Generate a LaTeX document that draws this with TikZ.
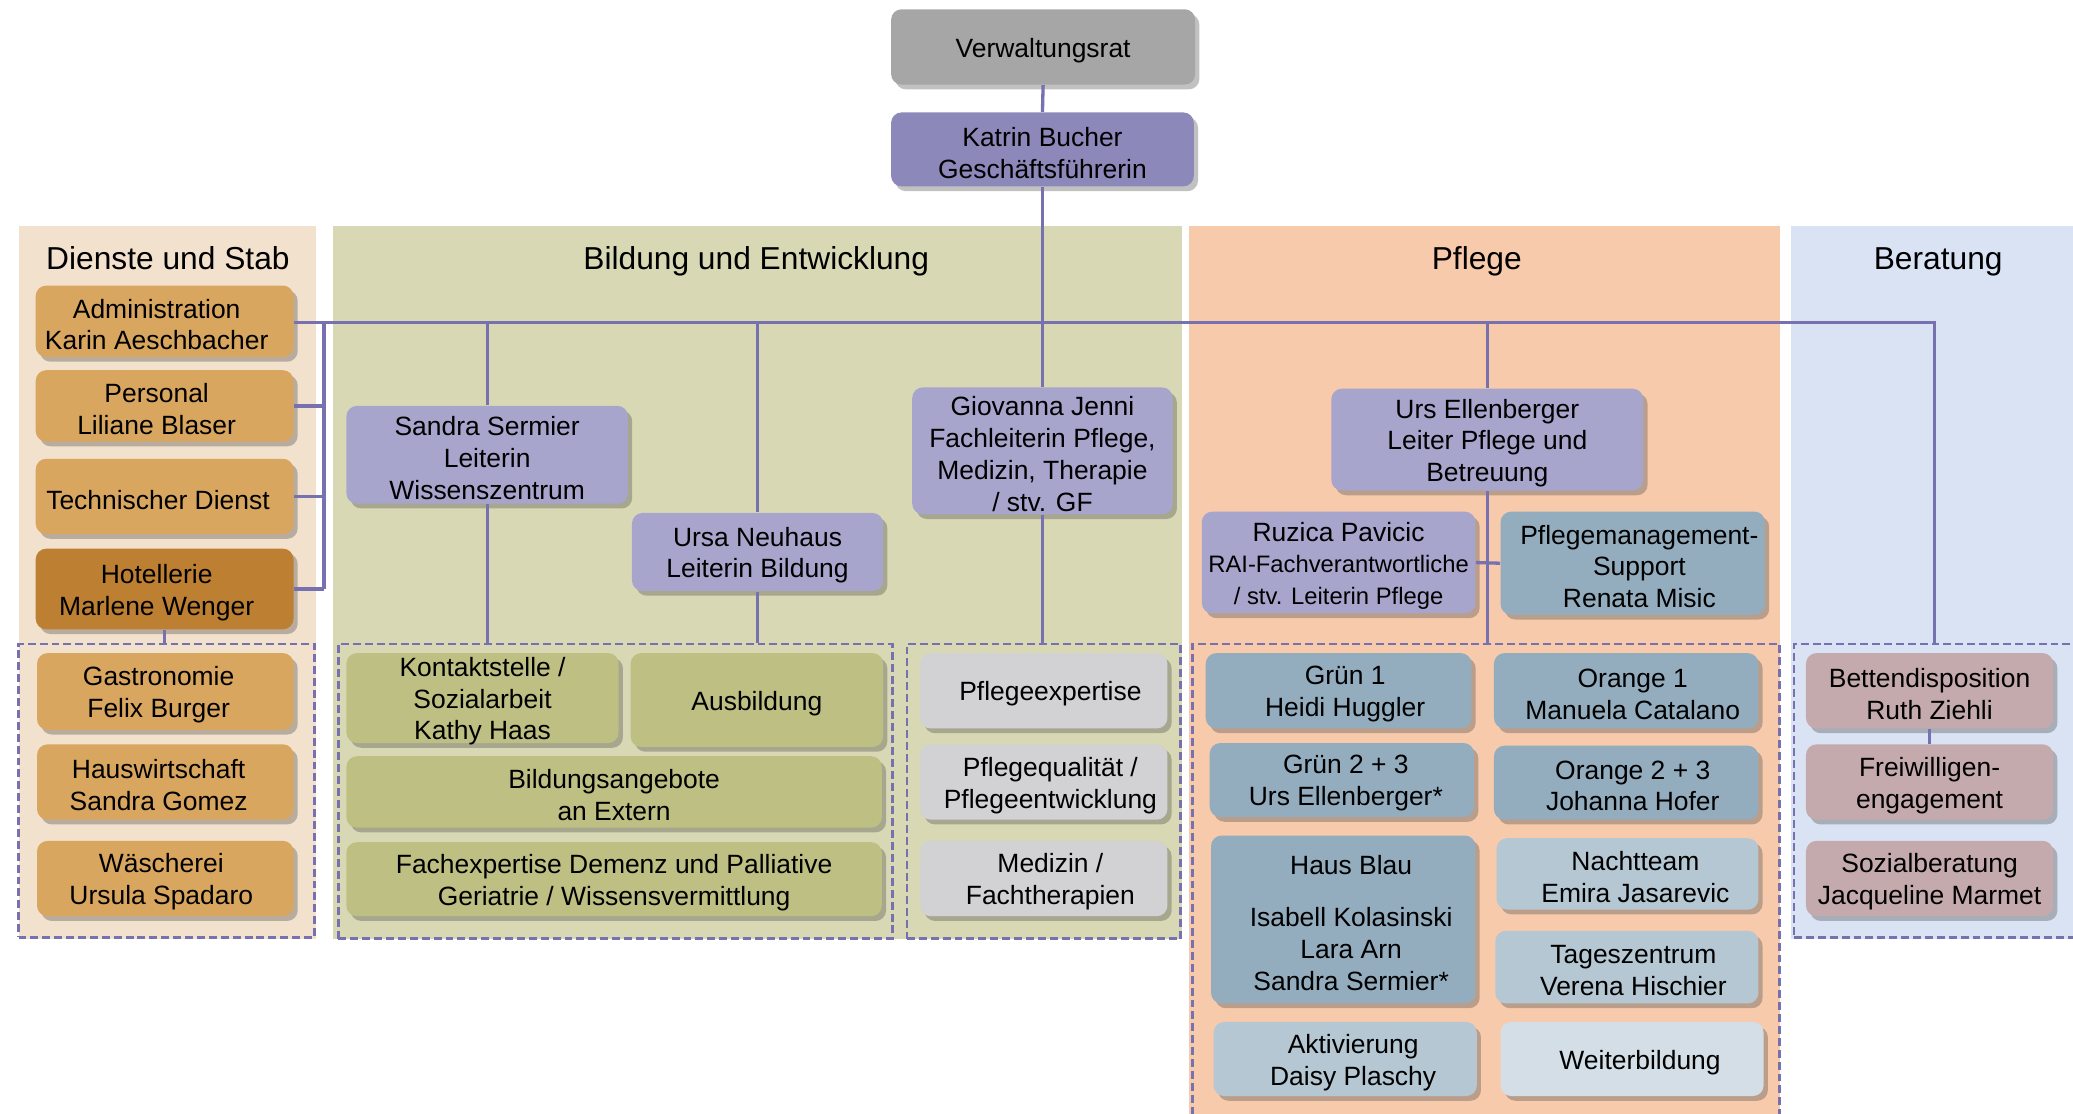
\documentclass[tikz,border=0pt]{standalone}
\usepackage{fontspec}
\setmainfont{Liberation Sans}
\usetikzlibrary{shadows}
\definecolor{pDienste}{HTML}{F2E1CC}
\definecolor{pBildung}{HTML}{D8D9B4}
\definecolor{pPflege}{HTML}{F7CAAC}
\definecolor{pBeratung}{HTML}{DAE3F3}
\definecolor{cGray}{HTML}{A6A6A6}
\definecolor{cKatrin}{HTML}{8C89BA}
\definecolor{cLilac}{HTML}{A7A5CC}
\definecolor{cTan}{HTML}{D9A660}
\definecolor{cDarkTan}{HTML}{BD7F31}
\definecolor{cOlive}{HTML}{BEBF82}
\definecolor{cLGray}{HTML}{D2D1D4}
\definecolor{cBlue}{HTML}{93ADBF}
\definecolor{cLBlue}{HTML}{B4C7D3}
\definecolor{cLLBlue}{HTML}{D3DEE6}
\definecolor{cMauve}{HTML}{C4AAAC}
\definecolor{cLine}{HTML}{7771B0}
\tikzset{
  box/.style={draw=none,rounded corners=4pt,inner sep=0pt,
    drop shadow={shadow xshift=1.6pt,shadow yshift=-1.8pt,opacity=0.35,fill=black!70}},
  btext/.style={inner sep=0pt,align=center,font=\fontsize{10}{12}\selectfont,text=black},
  dbox/.style={draw=cLine,dashed,dash pattern=on 3pt off 1.5pt,line width=1pt,inner sep=0pt},
  conn/.style={draw=cLine,line width=1.25pt},
  head/.style={font=\fontsize{12}{14}\selectfont,text=black,inner sep=0pt,anchor=base}
}
% \bx[xshift of text]{name}{x1}{y1}{x2}{y2}{style}{text}
\newcommand\bx[8][0]{%
  \node[#7,minimum width={(#5-#3)*0.5pt},minimum height={(#6-#4)*0.5pt}] (#2) at ({(#3+#5)/2},{(#4+#6)/2}) {};%
  \node[btext,xshift={#1*0.5pt},yshift=-1.25pt] (#2t) at (#2.center) {#8};}
\newcommand\dg[6]{\node[dbox,minimum width={(#4-#2)*0.5pt},minimum height={(#5-#3)*0.5pt}] (#1) at ({(#2+#4)/2},{(#3+#5)/2}) {};}
\begin{document}
\begin{tikzpicture}[x=0.5pt,y=-0.5pt]
\useasboundingbox (0,0) rectangle (1568,842);
% panels
\fill[pDienste] (14,171) rectangle (239,710);
\fill[pBildung] (252,171) rectangle (894,710);
\fill[pPflege] (899,171) rectangle (1346,850);
\fill[pBeratung] (1355,171) rectangle (1575,710);
\node[head] (hD) at (127,203.5) {Dienste und Stab};
\node[head] (hB) at (572,203.5) {Bildung und Entwicklung};
\node[head] (hP) at (1117,203.5) {Pflege};
\node[head] (hR) at (1466,203.5) {Beratung};
% dashed groups
\dg{dd1}{14}{487}{238}{709}{}
\dg{dd2}{256}{487}{675}{710}{}
\dg{dd3}{686}{487}{893}{710}{}
\dg{dd4}{902}{487}{1346}{860}{}
\dg{dd5}{1357}{487}{1580}{709}{}
\coordinate (busL) at (222,244);
\coordinate (busR) at (1463,244);
\coordinate (lv) at (245,244);
% top
\bx{vr}{674}{7}{904}{64}{box,fill=cGray}{Verwaltungsrat}
\bx{kb}{674}{85}{903}{141}{box,fill=cKatrin}{Katrin Bucher\\Geschäftsführerin}
% Dienste
\bx[-6]{adm}{27}{216}{222}{270}{box,fill=cTan}{Administration\\Karin Aeschbacher}
\bx[-6]{per}{27}{280}{222}{334}{box,fill=cTan}{Personal\\Liliane Blaser}
\bx[-5]{tec}{27}{347}{222}{404}{box,fill=cTan}{Technischer Dienst}
\bx[-6]{hot}{27}{415}{222}{476}{box,fill=cDarkTan}{Hotellerie\\Marlene Wenger}
\bx[-5]{gas}{28}{494}{222}{552}{box,fill=cTan}{Gastronomie\\Felix Burger}
\bx[-5]{hau}{28}{563}{222}{620}{box,fill=cTan}{Hauswirtschaft\\Sandra Gomez}
\bx[-3]{was}{28}{636}{222}{693}{box,fill=cTan}{Wäscherei\\Ursula Spadaro}
% Bildung
\bx{ss}{262}{307}{475}{381}{box,fill=cLilac}{Sandra Sermier\\Leiterin\\Wissenszentrum}
\bx{un}{478}{388}{668}{447}{box,fill=cLilac}{Ursa Neuhaus\\Leiterin Bildung}
\bx{gj}{690}{293}{887}{389}{box,fill=cLilac}{Giovanna Jenni\\Fachleiterin Pflege,\\Medizin, Therapie\\/ stv. GF}
\bx{ks}{262}{494}{468}{562}{box,fill=cOlive}{Kontaktstelle /\\Sozialarbeit\\Kathy Haas}
\bx{aus}{477}{494}{668}{565}{box,fill=cOlive}{Ausbildung}
\bx{ba}{262}{572}{667}{626}{box,fill=cOlive}{Bildungsangebote\\an Extern}
\bx{fe}{262}{637}{667}{693}{box,fill=cOlive}{Fachexpertise Demenz und Palliative\\Geriatrie / Wissensvermittlung}
\bx[5]{pe}{696}{494}{883}{551}{box,fill=cLGray}{Pflegeexpertise}
\bx[5]{pq}{696}{563}{883}{620}{box,fill=cLGray}{Pflegequalität /\\Pflegeentwicklung}
\bx[5]{mf}{696}{636}{883}{693}{box,fill=cLGray}{Medizin /\\Fachtherapien}
% Pflege
\bx{ue}{1007}{294}{1243}{371}{box,fill=cLilac}{Urs Ellenberger\\Leiter Pflege und\\Betreuung}
\bx{rp}{909}{387}{1116}{464}{box,fill=cLilac}{Ruzica Pavicic\\{\fontsize{9}{11}\selectfont RAI-Fachverantwortliche}\\{\fontsize{9}{11}\selectfont / stv. Leiterin Pflege}}
\bx[5]{pm}{1135}{387}{1335}{465}{box,fill=cBlue}{Pflegemanagement-\\Support\\Renata Misic}
\bx[5]{g1}{912}{494}{1113}{551}{box,fill=cBlue}{Grün 1\\Heidi Huggler}
\bx[5]{o1}{1130}{494}{1330}{551}{box,fill=cBlue}{Orange 1\\Manuela Catalano}
\bx[3]{g2}{915}{562}{1115}{618}{box,fill=cBlue}{Grün 2 + 3\\Urs Ellenberger*}
\bx[5]{o2}{1130}{564}{1330}{620}{box,fill=cBlue}{Orange 2 + 3\\Johanna Hofer}
\bx[6]{hb}{916}{632}{1116}{759}{box,fill=cBlue}{Haus Blau\\[8pt]Isabell Kolasinski\\Lara Arn\\Sandra Sermier*}
\bx[6]{nt}{1132}{634}{1330}{688}{box,fill=cLBlue}{Nachtteam\\Emira Jasarevic}
\bx[5]{tz}{1131}{704}{1330}{759}{box,fill=cLBlue}{Tageszentrum\\Verena Hischier}
\bx[6]{ak}{918}{773}{1117}{829}{box,fill=cLBlue}{Aktivierung\\Daisy Plaschy}
\bx[6]{wb}{1135}{773}{1334}{829}{box,fill=cLLBlue}{Weiterbildung}
% Beratung
\bx{bd}{1366}{494}{1553}{551}{box,fill=cMauve}{Bettendisposition\\Ruth Ziehli}
\bx{fw}{1366}{563}{1553}{620}{box,fill=cMauve}{Freiwilligen-\\engagement}
\bx{sb}{1366}{636}{1553}{693}{box,fill=cMauve}{Sozialberatung\\Jacqueline Marmet}
% connectors
\draw[conn] (vr.south) -- (kb.north);
\draw[conn] (kb.south) -- (kb.south |- gj.north);
\draw[conn] (adm.east |- busL) -- (busR) -- (busR |- dd5.north);
\draw[conn] (lv) -- (lv |- hot.east);
\draw[conn] (per.east) -- (per.east -| lv);
\draw[conn] (tec.east) -- (tec.east -| lv);
\draw[conn] (hot.east) -- (hot.east -| lv);
\draw[conn] (hot.south) -- (hot.south |- dd1.north);
\draw[conn] (ss.north) -- (ss.north |- busL);
\draw[conn] (ss.south) -- (ss.south |- dd2.north);
\draw[conn] (un.north) -- (un.north |- busL);
\draw[conn] (un.south) -- (un.south |- dd2.north);
\draw[conn] (gj.south) -- (gj.south |- dd3.north);
\draw[conn] (ue.north) -- (ue.north |- busL);
\draw[conn] (ue.south) -- (ue.south |- dd4.north);
\draw[conn] (rp.east) -- (pm.west);
\draw[conn] (bd.south) -- (fw.north);
\end{tikzpicture}
\end{document}
